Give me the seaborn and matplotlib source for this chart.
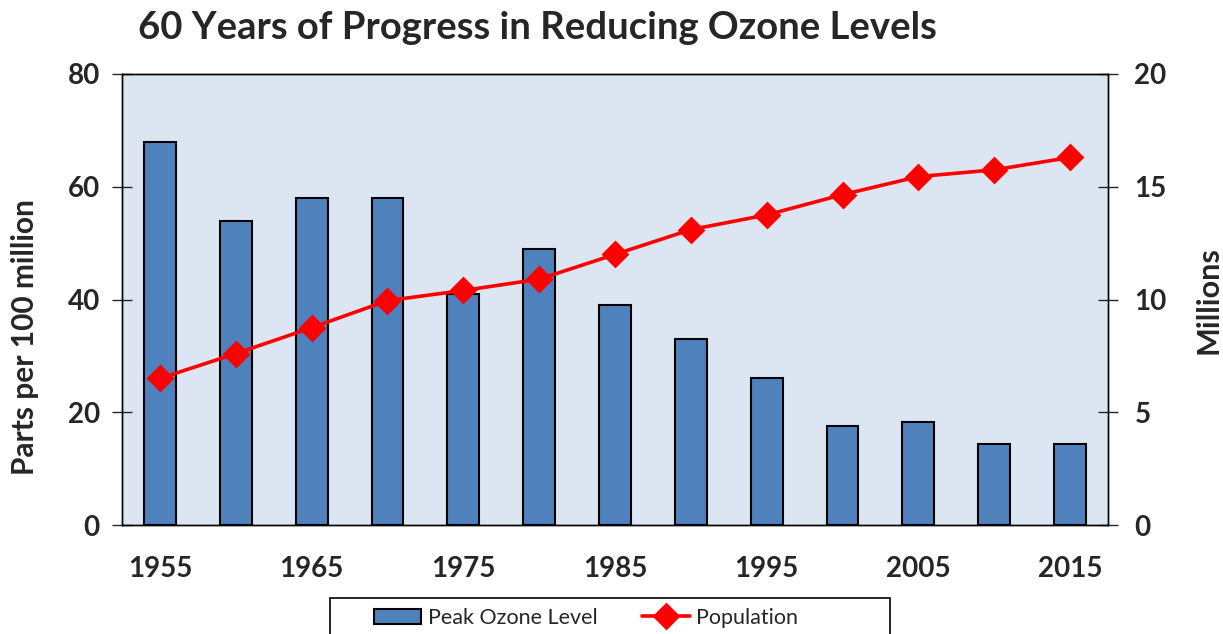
import numpy as np
import pandas as pd
import matplotlib
matplotlib.use("Agg")
import matplotlib.pyplot as plt
from matplotlib.patches import Rectangle
import seaborn as sns

# chart values
years = [1955, 1960, 1965, 1970, 1975, 1980, 1985, 1990, 1995, 2000, 2005, 2010, 2015]
peak_ozone = [68, 54, 58, 58, 41, 49, 39, 33, 26, 17.6, 18.2, 14.3, 14.4]
population = [6.5, 7.6, 8.75, 9.95, 10.4, 10.9, 12.0, 13.1, 13.75, 14.65, 15.45, 15.75, 16.3]
left_ticks = [0, 20, 40, 60, 80]
right_ticks = [0, 5, 10, 15, 20]

title = "60 Years of Progress in Reducing Ozone Levels"
bar_color = "#4F81BD"
line_color = "#FF0000"
plot_bg = "#DCE6F2"

sns.set_style("white")
plt.rcParams['font.family'] = ['Lato', 'DejaVu Sans']

df = pd.DataFrame({'year': [str(y) for y in years],
                   'ozone': peak_ozone,
                   'population': population})

W, H = 1223, 634
fig = plt.figure(figsize=(W / 100, H / 100), dpi=100)
ax = fig.add_axes([122 / W, 1 - 525 / H, (1108 - 122) / W, (525 - 74) / H])
ax.set_facecolor(plot_bg)

sns.barplot(data=df, x='year', y='ozone', ax=ax, color=bar_color, saturation=1,
            edgecolor='black', linewidth=1.5, width=0.42, label='Peak Ozone Level')

ax2 = ax.twinx()
sns.pointplot(data=df, x='year', y='population', ax=ax2, color=line_color,
              markers='D', markersize=12, linewidth=2.6, label='Population')

ax.set_ylim(0, 80)
ax.set_yticks(left_ticks)
ax2.set_ylim(0, 20)
ax2.set_yticks(right_ticks)
ax.set_xlim(-0.5, len(years) - 0.5)

# labels only every other year, tick marks at category boundaries
ax.set_xticks(np.arange(0, len(years), 2))
ax.set_xticklabels([str(y) for y in years[::2]])
ax.set_xticks(np.arange(-0.5, len(years), 1), minor=True)
ax.tick_params(axis='x', which='major', length=0, pad=22, labelsize=20)
ax.tick_params(axis='x', which='minor', direction='inout', length=14, width=1)
ax.tick_params(axis='y', direction='inout', length=14, width=1, pad=9, labelsize=20, left=True)
ax2.tick_params(axis='y', direction='inout', length=14, width=1, pad=12, labelsize=20, right=True)
for lab in ax.get_xticklabels() + ax.get_yticklabels() + ax2.get_yticklabels():
    lab.set_fontweight('bold')

ax.set_xlabel('')
ax.set_ylabel('')
ax2.set_xlabel('')
ax2.set_ylabel('')
for a in (ax, ax2):
    for s in a.spines.values():
        s.set_color('black')
        s.set_linewidth(1)
        s.set_visible(True)
ax.grid(False)
ax2.grid(False)

fig.text(537 / W, 1 - 28 / H, title, ha='center', va='center',
         fontsize=27.5, fontweight='bold')
fig.text(25 / W, 1 - 337 / H, 'Parts per 100 million', rotation=90,
         ha='center', va='center', fontsize=21.5, fontweight='bold')
fig.text(1208 / W, 1 - 300 / H, 'Millions', rotation=90,
         ha='center', va='center', fontsize=22, fontweight='bold')

# legend box runs off the bottom edge like in the original
box_top = 1 - 598 / H
fig.patches.append(Rectangle((330 / W, -0.05), (890 - 330) / W, box_top + 0.05,
                             transform=fig.transFigure, fill=False,
                             edgecolor='black', linewidth=1.2))
h1, l1 = ax.get_legend_handles_labels()
h2, l2 = ax2.get_legend_handles_labels()
fig.legend(h1 + h2, l1 + l2, loc='center', ncol=2,
           bbox_to_anchor=(586 / W, 1 - 618 / H),
           fontsize=15.5, frameon=False, borderaxespad=0,
           handlelength=2.2, columnspacing=2.1, handletextpad=0.3)
if ax.get_legend() is not None:
    ax.get_legend().remove()
if ax2.get_legend() is not None:
    ax2.get_legend().remove()

fig.savefig('out.png', dpi=100)
